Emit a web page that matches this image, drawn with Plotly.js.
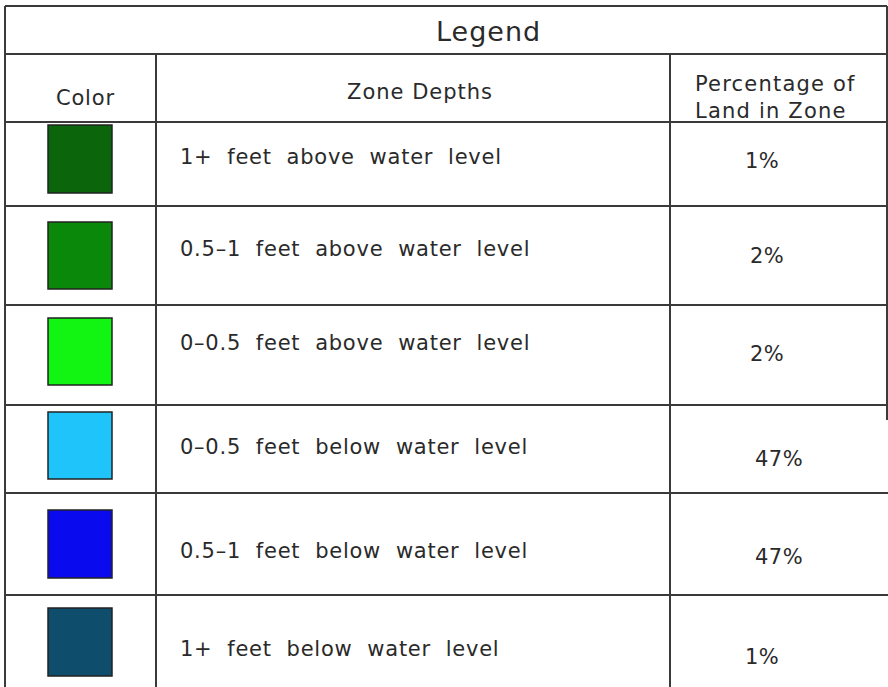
<!DOCTYPE html>
<html>
<head>
<meta charset="utf-8">
<script src="https://cdn.plot.ly/plotly-3.0.1.min.js"></script>
<style>html,body{margin:0;padding:0;background:#fff;}#chart{width:888px;height:687px;}</style>
</head>
<body>
<div id="chart"></div>
<script>
// ---- data ----
const title = 'Legend';
const headers = ['Color', 'Zone Depths', 'Percentage of<br>Land in Zone'];
const zones = [
  '1+  feet  above  water  level',
  '0.5–1  feet  above  water  level',
  '0–0.5  feet  above  water  level',
  '0–0.5  feet  below  water  level',
  '0.5–1  feet  below  water  level',
  '1+  feet  below  water  level'
];
const colors = ['#0b650b', '#0a880a', '#12f512', '#1ec4fa', '#0a0aef', '#0e4d6c'];
const percents = ['1%', '2%', '2%', '47%', '47%', '1%'];

// ---- layout geometry (pixels in axis units) ----
const W = 888, H = 687;
const xL = 5, xC1 = 156, xC2 = 670, xR = 887;
const yTop = 6, yTitle = 54;
const rowLines = [122, 206, 305, 405, 493, 595];
const swTop = [125, 222, 318, 412, 510, 608];
const swBot = [193, 289, 385, 479, 578, 676];
const swX0 = 48, swX1 = 112;
const textY = [157, 249, 343, 447, 551, 649];
const pctY = [161, 256, 354, 459, 557, 657];
const pctX = [762, 767, 767, 779, 779, 762];

const lineStyle = {color: '#3a3a3a', width: 2};
const shapes = [];
function hline(y, x0, x1) { shapes.push({type: 'line', xref: 'x', yref: 'y', x0: x0, x1: x1, y0: y, y1: y, line: lineStyle}); }
function vline(x, y0, y1) { shapes.push({type: 'line', xref: 'x', yref: 'y', x0: x, x1: x, y0: y0, y1: y1, line: lineStyle}); }

hline(yTop, xL, xR);
hline(yTitle, xL, xR);
rowLines.forEach(y => hline(y, xL, W));
vline(xL, yTop, H);
vline(xC1, yTitle, H);
vline(xC2, yTitle, H);
vline(xR, yTop, 420);

colors.forEach((c, i) => {
  shapes.push({type: 'rect', xref: 'x', yref: 'y', x0: swX0, x1: swX1, y0: swTop[i], y1: swBot[i],
    fillcolor: c, line: {color: '#222', width: 1.5}});
});

function sp(t, ls) { return '<span style="letter-spacing:' + ls + 'px">' + t + '</span>'; }

const font = {family: 'DejaVu Sans, sans-serif', size: 21, color: '#2a2a2a'};
const annotations = [];
annotations.push({x: 488, y: 31, text: sp(title, 1), showarrow: false, xref: 'x', yref: 'y',
  font: Object.assign({}, font, {size: 27}), xanchor: 'center', yanchor: 'middle'});
annotations.push({x: 85, y: 98, text: sp(headers[0], 0.8), showarrow: false, xref: 'x', yref: 'y', font: font, xanchor: 'center', yanchor: 'middle'});
annotations.push({x: 420, y: 92, text: sp(headers[1], 1), showarrow: false, xref: 'x', yref: 'y', font: font, xanchor: 'center', yanchor: 'middle'});
annotations.push({x: 693, y: 97, text: headers[2].split('<br>').map(t => sp(t, 1.2)).join('<br>'), showarrow: false, xref: 'x', yref: 'y', font: font, xanchor: 'left', yanchor: 'middle', align: 'left'});

zones.forEach((z, i) => {
  annotations.push({x: 178, y: textY[i], text: sp(z, 0.75), showarrow: false, xref: 'x', yref: 'y', font: font, xanchor: 'left', yanchor: 'middle'});
  annotations.push({x: pctX[i], y: pctY[i], text: sp(percents[i], 0.5), showarrow: false, xref: 'x', yref: 'y', font: font, xanchor: 'center', yanchor: 'middle'});
});

const axis = {range: [0, W], showgrid: false, zeroline: false, showticklabels: false, ticks: '', fixedrange: true, showline: false};
const layout = {
  width: W, height: H,
  margin: {l: 0, r: 0, t: 0, b: 0},
  paper_bgcolor: '#ffffff', plot_bgcolor: '#ffffff',
  xaxis: axis,
  yaxis: Object.assign({}, axis, {range: [H, 0]}),
  shapes: shapes,
  annotations: annotations,
  showlegend: false
};
Plotly.newPlot('chart', [{x: [], y: [], type: 'scatter', mode: 'markers', hoverinfo: 'skip'}], layout, {displayModeBar: false, staticPlot: true});
</script>
</body>
</html>
